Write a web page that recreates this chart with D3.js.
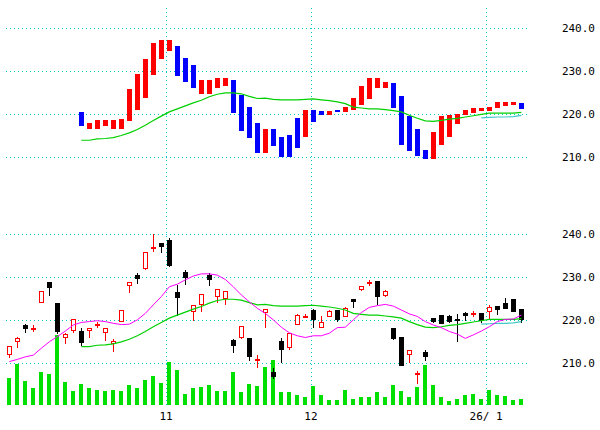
<!DOCTYPE html>
<html><head><meta charset="utf-8">
<script src="https://cdn.jsdelivr.net/npm/d3@7"></script>
<style>body{margin:0;background:#fff}</style></head>
<body><svg id="c" width="600" height="430"></svg>
<script>
// bottom candles: open, high, low, close
const candleOpen  = [212.0,215.0,218.7,218.2,224.2,228.9,223.8,216.0,217.6,217.4,217.7,219.1,217.1,214.5,219.8,228.0,230.5,232.1,236.9,237.9,238.6,226.4,231.2,222.1,223.7,230.5,225.6,225.1,215.2,216.0,215.8,210.9,221.9,207.8,215.0,213.6,219.1,221.0,222.2,218.3,220.8,222.2,221.0,224.9,227.1,228.8,229.1,225.8,218.1,215.9,212.1,207.7,212.6,220.5,221.1,220.9,220.3,221.6,221.5,221.6,222.1,223.3,223.8,224.9,222.4];
const candleHigh  = [213.9,216.2,219.1,218.8,226.8,228.9,224.1,217.0,220.1,218.1,218.1,219.5,218.1,215.6,222.3,228.8,230.9,236.0,240.1,237.9,239.1,228.1,231.7,223.5,226.1,230.9,227.2,226.7,215.7,218.5,215.8,211.9,222.4,208.8,215.9,217.1,221.5,221.5,222.6,220.9,222.4,222.2,223.0,224.9,227.9,229.3,229.1,227.0,218.3,215.9,213.0,208.2,213.1,220.5,221.3,221.2,221.4,221.9,222.2,221.6,223.5,223.3,225.2,224.9,222.4];
const candleLow   = [211.3,213.6,217.1,217.3,224.2,225.7,216.8,214.4,217.1,214.0,216.0,218.1,215.3,212.7,219.8,226.4,228.4,231.6,235.8,235.7,232.5,220.9,228.1,219.9,222.0,227.9,224.0,223.6,212.5,215.6,210.6,209.0,218.1,206.4,210.0,213.2,219.1,220.7,218.3,218.3,220.8,219.5,221.0,222.9,226.7,227.9,223.5,225.4,215.4,209.3,210.0,205.2,210.5,219.3,219.3,219.3,215.0,219.8,220.7,219.3,220.1,221.3,222.7,222.0,219.4];
const candleClose = [213.9,215.8,218.1,218.2,226.6,227.6,217.3,216.7,220.1,214.8,218.1,219.1,218.1,215.1,222.3,228.8,229.8,235.8,236.9,237.1,232.7,225.4,229.9,223.5,226.1,229.5,227.2,226.7,214.1,218.5,211.6,210.9,222.4,206.9,213.2,217.0,221.1,221.0,220.2,219.5,222.0,220.1,222.8,224.3,227.9,228.8,225.6,226.7,215.7,209.5,213.0,207.7,211.5,219.7,219.3,219.8,219.9,221.1,221.5,219.9,223.0,222.5,222.7,222.0,220.3];
const volume = [81,124,72,51,99,93,210,69,42,63,51,45,42,45,42,60,51,75,87,66,129,105,33,51,54,60,42,42,99,39,63,57,114,135,39,39,30,25,58,31,15,15,45,18,25,25,39,25,61,42,25,55,121,61,25,13,18,31,34,18,45,31,28,15,18];
const maShort = [210.4,210.9,211.5,211.9,213.5,215.0,216.2,217.5,218.9,219.5,219.7,219.9,219.7,219.3,219.0,219.1,220.1,221.6,223.6,225.5,227.8,228.4,229.4,230.3,230.8,230.8,230.5,229.5,227.8,225.9,224.3,222.8,221.6,220.1,218.4,217.1,216.4,216.0,216.4,216.4,217.0,218.3,218.4,220.1,221.8,223.0,223.4,223.7,223.3,222.4,221.5,220.9,219.7,218.9,218.3,217.4,216.8,215.8,216.6,217.5,218.5,219.7,220.2,220.3,221.2];
// long MA starts at index 9
const maLongStart = 9;
const maLong = [213.9,213.9,214.2,214.3,214.5,215.0,215.6,216.4,217.4,218.5,219.5,220.5,221.2,221.9,222.6,223.2,224.0,224.6,224.9,224.9,224.7,224.1,223.6,223.7,223.4,223.3,223.3,223.3,223.4,223.5,223.3,223.1,222.8,222.4,221.6,221.4,221.2,221.2,221.0,220.8,220.5,219.7,219.0,218.4,218.3,218.5,218.8,219.0,219.3,219.6,219.9,220.2,220.2,220.2,220.2,220.4];
const maCyanStart = 59;
const maCyan = [219.1,219.2,219.3,219.3,219.4,219.7];
// top panel bars (start index 9)
const haStart = 9;
const haOpen  = [220.5,216.4,216.4,217.3,216.4,216.4,218.4,221.0,223.8,229.1,232.9,234.7,235.7,233.1,231.5,224.7,224.7,226.1,226.4,228.0,224.5,221.7,217.8,211.0,216.6,214.7,215.2,219.1,214.6,221.0,220.8,219.7,221.0,220.4,221.0,222.2,223.6,226.0,226.0,227.3,224.3,219.6,216.6,211.7,209.5,212.9,214.6,217.6,219.7,220.2,220.6,220.6,221.3,221.8,222.0,222.6];
const haClose = [217.1,217.8,218.7,218.7,218.7,218.9,225.7,229.4,232.9,236.6,237.1,237.1,228.9,227.5,226.1,228.0,228.0,228.4,228.4,220.3,216.1,214.5,211.0,216.6,212.6,210.1,210.1,212.2,221.0,218.1,219.7,220.8,220.4,221.7,223.8,226.4,228.4,228.4,227.5,221.3,212.9,211.3,210.2,209.5,215.9,219.6,219.8,220.1,220.9,221.5,221.5,221.7,222.9,222.9,222.9,221.1];
const priceTicks = [240,230,220,210];
const dateLabels = [{i:19.6,t:"11"},{i:37.7,t:"12"},{i:59.6,t:"26/ 1"}];

const svg = d3.select("#c");
const x = d3.scaleLinear().domain([0,64]).range([9.3,521.3]);
const yTop = d3.scaleLinear().domain([210,240]).range([157,28]);
const yBot = d3.scaleLinear().domain([210,240]).range([363.3,234.3]);
const yVol = d3.scaleLinear().domain([0,210]).range([405,335]);
const grid = "#00c8c8";

// grids
const g = svg.append("g").attr("shape-rendering","crispEdges");
[yTop,yBot].forEach(ys=>{
  g.selectAll(null).data(priceTicks).enter().append("line")
   .attr("x1",6).attr("x2",527).attr("y1",d=>Math.round(ys(d))+0.5).attr("y2",d=>Math.round(ys(d))+0.5)
   .attr("stroke",grid).attr("stroke-dasharray","1,3");
  svg.selectAll(null).data(priceTicks).enter().append("text")
   .attr("x",595).attr("y",d=>ys(d)+4).attr("text-anchor","end")
   .attr("font-family","DejaVu Sans Mono").attr("font-size",11).text(d=>d.toFixed(1));
});
g.selectAll(null).data(dateLabels).enter().append("line")
 .attr("x1",d=>Math.round(x(d.i))+0.5).attr("x2",d=>Math.round(x(d.i))+0.5).attr("y1",8).attr("y2",405)
 .attr("stroke",grid).attr("stroke-dasharray","1,3");
svg.selectAll(null).data(dateLabels).enter().append("text")
 .attr("x",d=>x(d.i)).attr("y",420).attr("text-anchor","middle")
 .attr("font-family","DejaVu Sans Mono").attr("font-size",11).text(d=>d.t);

// volume
const idx = d3.range(volume.length);
g.selectAll(null).data(idx).enter().append("rect")
 .attr("x",i=>Math.round(x(i))-2).attr("width",4)
 .attr("y",i=>yVol(volume[i])).attr("height",i=>yVol(0)-yVol(volume[i])).attr("fill","#00e000");

// lines
const line = (ys,start)=>d3.line().x((d,k)=>x(k+start)).y(d=>ys(d));
svg.append("path").attr("d",line(yTop,maLongStart)(maLong)).attr("fill","none").attr("stroke","#00d000").attr("stroke-width",1.2);
svg.append("path").attr("d",line(yTop,maCyanStart)(maCyan)).attr("fill","none").attr("stroke","#40c8c8").attr("stroke-width",1.2);
svg.append("path").attr("d",line(yBot,maLongStart)(maLong)).attr("fill","none").attr("stroke","#00d000").attr("stroke-width",1.2);
svg.append("path").attr("d",line(yBot,maCyanStart)(maCyan)).attr("fill","none").attr("stroke","#40c8c8").attr("stroke-width",1.2);
svg.append("path").attr("d",line(yBot,0)(maShort)).attr("fill","none").attr("stroke","#ff00ff").attr("stroke-width",1);

// top bars
const hi = d3.range(haOpen.length);
g.selectAll(null).data(hi).enter().append("rect")
 .attr("x",k=>Math.round(x(k+haStart))-2.5).attr("width",5)
 .attr("y",k=>yTop(Math.max(haOpen[k],haClose[k])))
 .attr("height",k=>Math.max(1,Math.abs(yTop(haOpen[k])-yTop(haClose[k]))))
 .attr("fill",k=>haClose[k]>=haOpen[k]?"#ff0000":"#0000ff");

// candles
const cg = g.selectAll(null).data(idx).enter().append("g");
cg.append("line")
 .attr("x1",i=>Math.round(x(i))+0.5).attr("x2",i=>Math.round(x(i))+0.5)
 .attr("y1",i=>yBot(candleHigh[i])).attr("y2",i=>yBot(candleLow[i]))
 .attr("stroke",i=>candleClose[i]>=candleOpen[i]?"#ff0000":"#000");
cg.append("rect")
 .attr("x",i=>Math.round(x(i))-2+0.5).attr("width",4)
 .attr("y",i=>yBot(Math.max(candleOpen[i],candleClose[i])))
 .attr("height",i=>Math.max(1,Math.abs(yBot(candleOpen[i])-yBot(candleClose[i]))))
 .attr("fill",i=>candleClose[i]>=candleOpen[i]?"#fff":"#000")
 .attr("stroke",i=>candleClose[i]>=candleOpen[i]?"#ff0000":"#000");
</script></body></html>
